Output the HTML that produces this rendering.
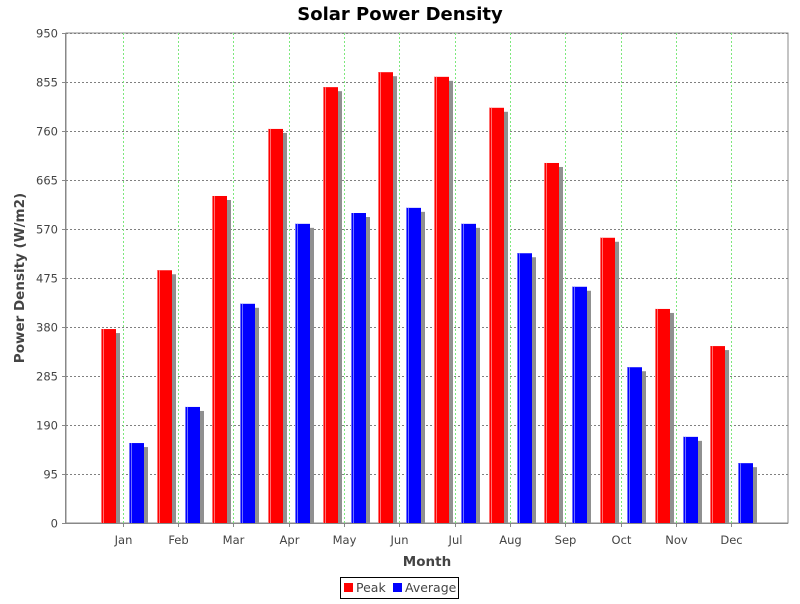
<!DOCTYPE html>
<html><head><meta charset="utf-8"><style>
body{margin:0;background:#fff;font-family:"DejaVu Sans","Liberation Sans",sans-serif;}
</style></head><body>
<svg id="chart" width="800" height="600" xmlns="http://www.w3.org/2000/svg">
<text x="400" y="20" text-anchor="middle" font-size="18" font-weight="bold" fill="#000">Solar Power Density</text>
<g id="grid"></g>
<g id="bars"></g>
<g id="axes"></g>
<text transform="translate(24,278) rotate(-90)" text-anchor="middle" font-size="13.5" font-weight="bold" fill="#444">Power Density (W/m2)</text>
<text x="427" y="566" text-anchor="middle" font-size="13.5" font-weight="bold" fill="#444">Month</text>
<g>
<rect x="340.5" y="577.5" width="118" height="21" fill="#fff" stroke="#000"/>
<g><rect x="344" y="583" width="9" height="9" fill="#f00"/><text x="356" y="592" font-size="12.5" fill="#444">Peak</text></g>
<g><rect x="393" y="583" width="9" height="9" fill="#00f"/><text x="405" y="592" font-size="12.5" fill="#444">Average</text></g>
</g>
</svg>
<script>
const categories=["Jan","Feb","Mar","Apr","May","Jun","Jul","Aug","Sep","Oct","Nov","Dec"];
const peak=[376,490,634,764,845,874,865,805,698,553,415,343];
const average=[155,225,425,580,601,611,580,523,458,302,167,116];
const yTicks=[0,95,190,285,380,475,570,665,760,855,950];
const NS="http://www.w3.org/2000/svg";
const L=66,R=788,T=33,B=523,YMAX=950;
const y=v=>B-(v/YMAX)*(B-T);
const band=(R-L)*0.92/12;
const x0=i=>L+(R-L)*0.04+i*band;
function mk(tag,attrs,parent){const e=document.createElementNS(NS,tag);for(const k in attrs)e.setAttribute(k,attrs[k]);parent.appendChild(e);return e;}
const grid=document.getElementById('grid'),bars=document.getElementById('bars'),axes=document.getElementById('axes');
mk('rect',{x:L,y:T,width:R-L,height:B-T,fill:'#fff',stroke:'#888','stroke-width':1},grid);
yTicks.forEach(t=>{
  const yy=Math.round(y(t))+0.5;
  const g=mk('line',{x1:L,x2:R,y1:yy,y2:yy,stroke:'#808080','stroke-dasharray':'2,2'},grid);
  
  
  mk('line',{x1:L-4,x2:L,y1:yy,y2:yy,stroke:'#888'},axes);
  const tx=mk('text',{x:L-8,y:yy+4,'text-anchor':'end','font-size':11.5,fill:'#444'},axes);
  tx.textContent=t;
  
  
});
categories.forEach((c,i)=>{
  const cx=Math.round(x0(i)+band/2)+0.5;
  const g=mk('line',{x1:cx,x2:cx,y1:T,y2:B,stroke:'#7de87d','stroke-dasharray':'2,2'},grid);
  
  
  mk('line',{x1:cx,x2:cx,y1:B,y2:B+4,stroke:'#888'},axes);
  const tx=mk('text',{x:cx,y:544,'text-anchor':'middle','font-size':11.5,fill:'#444'},axes);
  tx.textContent=c;
  
  
  [[peak[i],'#f00','#ff7070',6.6,'bar-peak'],[average[i],'#00f','#7070ff',34.3,'bar-average']].forEach(([v,col,light,off,name])=>{
    const bx=Math.round(x0(i)+off),top=y(v),w=15;
    mk('rect',{x:bx+4,y:top+4,width:w,height:B-top-4,fill:'#909090'},bars);
    const r=mk('rect',{x:bx,y:top,width:w,height:B-top,fill:col},bars);
    
    
    mk('rect',{x:bx,y:top,width:1,height:B-top,fill:light},bars);
    mk('rect',{x:bx+2,y:top,width:1,height:B-top,fill:light},bars);
  });
});
mk('line',{x1:L-0.5,x2:L-0.5,y1:T,y2:B,stroke:'#888'},axes);
mk('line',{x1:L,x2:R,y1:B+0.5,y2:B+0.5,stroke:'#888'},axes);
</script>
</body></html>
